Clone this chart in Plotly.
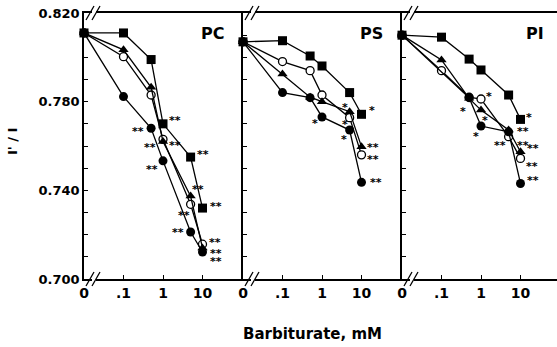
import math
import plotly.graph_objects as go
from plotly.subplots import make_subplots

# ---------------- data ----------------
conc = [0, 0.1, 0.5, 1, 5, 10]          # barbiturate, mM
x_tick_vals = [0.01, 0.1, 1, 10]         # "0" drawn at the 0.01 position of the log axis
x_tick_text = ["0", ".1", "1", "10"]
y_tick_vals = [0.70, 0.71, 0.72, 0.73, 0.74, 0.75, 0.76, 0.77, 0.78, 0.79, 0.80, 0.81, 0.82]
y_tick_text = ["0.700", "", "", "", "0.740", "", "", "", "0.780", "", "", "", "0.820"]
panels = ["PC", "PS", "PI"]

pc_square = [0.811, 0.811, 0.799, 0.770, 0.755, 0.732]
pc_triangle = [0.811, 0.8034, 0.7865, 0.762, 0.7374, 0.714]
pc_open = [0.811, 0.8003, 0.783, 0.763, 0.7337, 0.7157]
pc_filled = [0.811, 0.7823, 0.768, 0.7533, 0.7212, 0.7122]

ps_square = [0.807, 0.8075, 0.8006, 0.7961, 0.7841, 0.7743]
ps_triangle = [0.807, 0.7925, 0.782, 0.780, 0.7755, 0.7597]
ps_open = [0.807, 0.7981, 0.794, 0.783, 0.7728, 0.756]
ps_filled = [0.807, 0.7841, 0.7818, 0.7731, 0.7672, 0.7436]

pi_square = [0.810, 0.8091, 0.7992, 0.7943, 0.783, 0.772]
pi_triangle = [0.810, 0.7988, 0.7815, 0.7762, 0.7672, 0.7574]
pi_open = [0.810, 0.794, 0.782, 0.7812, 0.7642, 0.7544]
pi_filled = [0.810, None, 0.7818, 0.769, 0.7664, 0.7431]

series = {
    "PC": {"open": pc_open, "triangle": pc_triangle, "square": pc_square, "filled": pc_filled},
    "PS": {"open": ps_open, "triangle": ps_triangle, "square": ps_square, "filled": ps_filled},
    "PI": {"open": pi_open, "triangle": pi_triangle, "square": pi_square, "filled": pi_filled},
}

# significance marks: (panel, series, concentration, text, dx px, dy px (down +))
stars = [
    ("PC", "square", 1, "**", 12, -6),
    ("PC", "filled", 0.5, "**", -13, 0),
    ("PC", "triangle", 1, "**", -13, 3),
    ("PC", "open", 1, "**", 12, 3),
    ("PC", "filled", 1, "**", -11, 6),
    ("PC", "square", 5, "**", 12, -6),
    ("PC", "triangle", 5, "**", 7, -10),
    ("PC", "square", 10, "**", 13, -5),
    ("PC", "open", 5, "**", -7, 8),
    ("PC", "filled", 5, "**", -13, -3),
    ("PC", "open", 10, "**", 12, -5),
    ("PC", "triangle", 10, "**", 13, 3),
    ("PC", "filled", 10, "**", 13, 7),
    ("PS", "square", 10, "*", 10, -7),
    ("PS", "triangle", 5, "*", -5, -7),
    ("PS", "filled", 1, "*", -7, 4),
    ("PS", "open", 5, "*", -5, 4),
    ("PS", "filled", 5, "*", -6, 6),
    ("PS", "triangle", 10, "**", 11, -2),
    ("PS", "open", 10, "**", 11, 2),
    ("PS", "filled", 10, "**", 14, -3),
    ("PI", "open", 1, "*", 8, -6),
    ("PI", "triangle", 0.5, "*", -6, 10),
    ("PI", "triangle", 1, "*", 4, 7),
    ("PI", "filled", 1, "*", -5, 7),
    ("PI", "square", 10, "*", 8, -5),
    ("PI", "triangle", 5, "**", 14, -2),
    ("PI", "open", 5, "**", 14, 6),
    ("PI", "filled", 5, "**", -9, 11),
    ("PI", "triangle", 10, "**", 12, -6),
    ("PI", "open", 10, "**", 11, 5),
    ("PI", "filled", 10, "**", 12, -6),
]

styles = {
    "open": dict(symbol="circle", size=8, color="white", line=dict(color="black", width=1.3)),
    "triangle": dict(symbol="triangle-up", size=9, color="black", line=dict(color="black", width=0)),
    "square": dict(symbol="square", size=9, color="black", line=dict(color="black", width=0)),
    "filled": dict(symbol="circle", size=9, color="black", line=dict(color="black", width=0)),
}

# ---------------- layout geometry ----------------
W, H = 557, 347
ML, MR, MT, MB = 84, 0, 13, 68
PW = W - ML - MR
PH = H - MT - MB
panel_px = [0, 159, 318, PW]
decade_px = 39.5

def xplot(c):
    return 0.01 if c == 0 else c

fig = make_subplots(rows=1, cols=3, shared_yaxes=True, horizontal_spacing=0)

for i, p in enumerate(panels):
    col = i + 1
    for key in ["open", "triangle", "square", "filled"]:
        vals = series[p][key]
        fig.add_trace(go.Scatter(
            x=[xplot(c) for c in conc], y=vals, mode="lines+markers",
            connectgaps=True,
            line=dict(color="black", width=1.3),
            marker=styles[key], showlegend=False, cliponaxis=False,
        ), row=1, col=col)

axis_font = dict(family="DejaVu Sans", size=14, color="black", weight="bold")
for i in range(3):
    d0 = panel_px[i] / PW
    d1 = panel_px[i + 1] / PW
    width_px = panel_px[i + 1] - panel_px[i]
    xa = "xaxis" if i == 0 else f"xaxis{i+1}"
    ya = "yaxis" if i == 0 else f"yaxis{i+1}"
    fig.layout[xa].update(
        type="log", domain=[d0, d1], range=[-2, -2 + width_px / decade_px],
        tickvals=x_tick_vals, ticktext=x_tick_text, ticks="inside", ticklen=4,
        tickwidth=1.2, tickcolor="black", showline=True, linecolor="black",
        linewidth=1.6, mirror=True, showgrid=False, zeroline=False,
        tickfont=axis_font,
    )
    fig.layout[ya].update(
        range=[0.700, 0.820], tickvals=y_tick_vals, ticktext=y_tick_text,
        ticks="inside", ticklen=4, tickwidth=1.2, tickcolor="black",
        showline=True, linecolor="black", linewidth=1.6, showgrid=False,
        zeroline=False, showticklabels=(i == 0),
        tickfont=dict(family="DejaVu Sans", size=13, color="black", weight="bold"),
    )

annotations = []
# panel labels
for i, p in enumerate(panels):
    xa = "x" if i == 0 else f"x{i+1}"
    annotations.append(dict(
        x=1, y=1, xref=f"{xa} domain", yref="y domain", text=p, showarrow=False,
        xanchor="right", yanchor="top", xshift=-17 if i < 2 else -11, yshift=-9,
        font=dict(family="DejaVu Sans", size=16, color="black", weight="bold"),
    ))
# stars
for p, key, c, txt, dx, dy in stars:
    i = panels.index(p)
    xa = "x" if i == 0 else f"x{i+1}"
    v = series[p][key][conc.index(c)]
    annotations.append(dict(
        x=math.log10(xplot(c)), y=v, xref=xa, yref="y", text=txt, showarrow=False,
        xanchor="center", yanchor="middle", xshift=dx, yshift=-dy - 3,
        font=dict(family="DejaVu Sans", size=11, color="black", weight="bold"),
    ))
# axis titles
annotations.append(dict(
    x=0.5, y=0, xref="paper", yref="paper", text="Barbiturate, mM", showarrow=False,
    xanchor="center", yanchor="middle", yshift=-55, xshift=-8,
    font=dict(family="DejaVu Sans", size=15, color="black", weight="bold"),
))
annotations.append(dict(
    x=0, y=0.5, xref="paper", yref="paper", text="I' / I", showarrow=False,
    textangle=-90, xanchor="center", yanchor="middle", xshift=-72, yshift=4,
    font=dict(family="DejaVu Sans", size=13, color="black", weight="bold"),
))

# axis break marks "//" at top-left and bottom-left of each panel
shapes = []
def px2paper(px, py):
    return (px - ML) / PW, 1 - (py - MT) / PH
for i in range(3):
    bx = ML + panel_px[i] + 9
    for by in (MT, MT + PH):
        gx0, gy0 = px2paper(bx - 1, by - 2)
        gx1, gy1 = px2paper(bx + 3, by + 2)
        shapes.append(dict(type="rect", xref="paper", yref="paper", x0=gx0, x1=gx1,
                           y0=gy0, y1=gy1, fillcolor="white", line=dict(width=0)))
        for off in (-3, 3):
            a0, b0 = px2paper(bx + off - 4, by + 7)
            a1, b1 = px2paper(bx + off + 4, by - 7)
            shapes.append(dict(type="line", xref="paper", yref="paper", x0=a0, y0=b0,
                               x1=a1, y1=b1, line=dict(color="black", width=1.3)))

fig.update_layout(
    width=W, height=H, margin=dict(l=ML, r=MR, t=MT, b=MB),
    paper_bgcolor="white", plot_bgcolor="white",
    annotations=annotations, shapes=shapes, showlegend=False,
)

fig.write_html("out.html", config={"displayModeBar": False},
               post_script="document.body.style.margin='0px';")
